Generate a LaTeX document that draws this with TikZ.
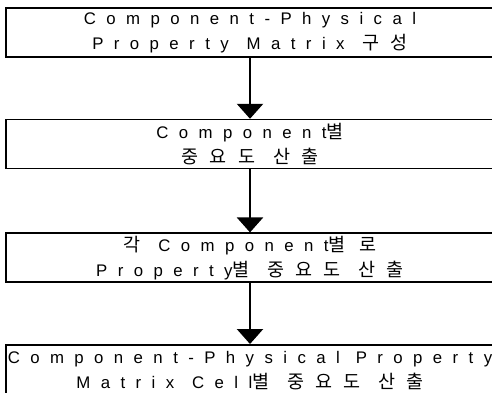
\documentclass[tikz,border=0pt]{standalone}
\usepackage{fontspec}
\setmainfont{Liberation Sans}[LetterSpace=62]
\newfontfamily\kor{Noto Sans CJK KR}[LetterSpace=60, Scale=1.1]
\newcommand{\wsp}{\hspace{18pt}}
\usetikzlibrary{arrows.meta, positioning}
\tikzset{every node/.style={font=\fontsize{16.8pt}{25pt}\selectfont}, every path/.style={line cap=round, line join=round}, >={Triangle[length=15pt, width=26pt]}}
\tikzset{stepbox/.style={draw, line width=1.6pt, line join=miter, minimum width=488pt, minimum height=49pt, inner xsep=4pt, inner ysep=0pt, text width=480pt, align=center}}

\begin{document}
\begin{tikzpicture}[x=1pt, y=-1pt]
    \useasboundingbox (0,0) rectangle (492,393);
    \node [stepbox] (matrix) at (250,32.5) {Component-Physical\\Property\wsp Matrix\wsp{\kor 구성}};
    \node [stepbox, below=61pt of matrix] (compimp) {Component{\kor 별}\\{\kor 중요도\wsp 산출}};
    \node [stepbox, below=63pt of compimp] (propimp) {{\kor 각}\wsp Component{\kor 별\hspace{14pt}로}\\Property{\kor 별\wsp 중요도\wsp 산출}};
    \node [stepbox, minimum height=52pt, below=61pt of propimp] (cellimp) {\makebox[480pt]{Component-Physical\hspace{16pt}Property}\\Matrix\wsp Cell{\kor 별\wsp 중요도\wsp 산출}};
    \draw [->, line width=2.5pt] (matrix) -- (compimp);
    \draw [->, line width=2.5pt] (compimp) -- (propimp);
    \draw [->, line width=2.5pt] (propimp) -- (cellimp);
\end{tikzpicture}
\end{document}
